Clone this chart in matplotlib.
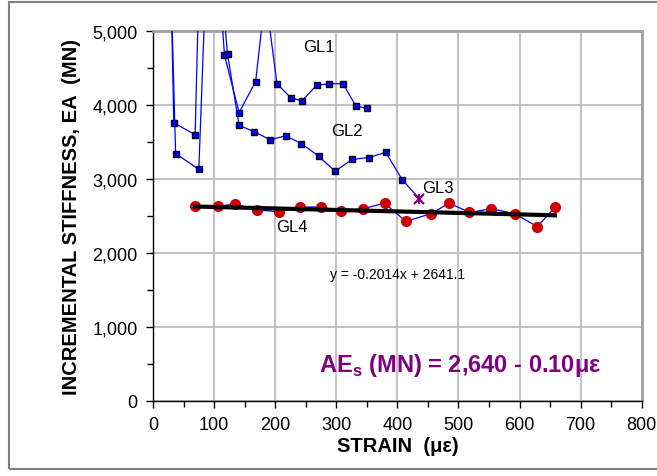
import matplotlib
matplotlib.use('Agg')
import matplotlib.pyplot as plt
from matplotlib.patches import Rectangle

plt.rcParams['font.family'] = ['Liberation Sans', 'DejaVu Sans']

# GL1 (squares)
gl1_x = [25, 34, 69, 84, 117, 141, 168, 184, 203, 226, 244, 268, 288, 311, 332, 350]
gl1_y = [7500, 3760, 3600, 8580, 4675, 3900, 4320, 5490, 4290, 4095, 4060, 4270, 4290, 4290, 3990, 3955]

# GL2 (squares), last segment runs to the GL3 point
gl2_x = [25, 37, 75, 94, 122, 141, 166, 192, 217, 243, 271, 298, 326, 353, 381, 408, 436]
gl2_y = [7000, 3345, 3130, 7345, 4690, 3725, 3640, 3530, 3585, 3480, 3310, 3105, 3265, 3290, 3360, 2990, 2733]

# GL3 single point
gl3_x = [436]
gl3_y = [2733]

# GL4 (circles)
gl4_x = [69, 107, 135, 170, 207, 241, 275, 308, 344, 379, 414, 455, 485, 518, 554, 592, 629, 658]
gl4_y = [2633, 2633, 2660, 2580, 2557, 2620, 2620, 2565, 2597, 2673, 2425, 2530, 2673, 2547, 2597, 2530, 2355, 2615]

# linear fit of GL4 shown on the chart
slope = -0.2014
intercept = 2641.1

fig = plt.figure(figsize=(6.57, 4.77), dpi=100)
ax = fig.add_axes([153/657, (477-401.5)/477, (641.7-153)/657, (401.5-32.3)/477])

blue = '#0000FF'
ax.plot(gl1_x, gl1_y, color=blue, lw=0.9, marker='s', ms=4.2,
        mfc=blue, mec='black', mew=1.0, zorder=3)
ax.plot(gl2_x[:-1], gl2_y[:-1], color=blue, lw=0.9, marker='s', ms=4.2,
        mfc=blue, mec='black', mew=1.0, zorder=3)
ax.plot(gl2_x[-2:], gl2_y[-2:], color=blue, lw=0.9, zorder=3)
ax.plot(gl3_x, gl3_y, ls='none', marker='x', ms=7, mew=1.6, color='#800080', zorder=4)
ax.plot(gl3_x, gl3_y, ls='none', marker='|', ms=7, mew=1.6, color='#800080', zorder=4)

ax.plot(gl4_x, gl4_y, color=blue, lw=0.9, marker='o', ms=7,
        mfc='#CC0000', mec='#CC0000', zorder=3)
fx = [min(gl4_x), max(gl4_x)]
fy = [slope * v + intercept for v in fx]
ax.plot(fx, fy, color='black', lw=3, zorder=5)

ax.set_xlim(0, 800)
ax.set_ylim(0, 5000)
ax.set_xticks(range(0, 801, 100))
ax.set_xticks(range(50, 801, 100), minor=True)
ax.set_yticks(range(0, 5001, 1000))
ax.set_yticks(range(500, 5001, 1000), minor=True)
ax.set_yticklabels(['0', '1,000', '2,000', '3,000', '4,000', '5,000'])
ax.tick_params(labelsize=13, direction='out', length=5, width=1, pad=6)
ax.tick_params(which='minor', direction='out', length=4, width=1)
ax.grid(True, which='major', color='#B8B8B8', lw=1.2)
ax.set_axisbelow(True)
for s in ['top', 'right']:
    ax.spines[s].set_color('#A0A0A0')
    ax.spines[s].set_linewidth(2)
for s in ['left', 'bottom']:
    ax.spines[s].set_color('black')
    ax.spines[s].set_linewidth(1)

ax.set_xlabel('STRAIN  (\u03bc\u03b5)', fontsize=14.5, fontweight='bold', labelpad=2)
ax.set_ylabel('INCREMENTAL STIFFNESS, EA  (MN)', fontsize=14.5, fontweight='bold', labelpad=8)

ax.text(272, 4790, 'GL1', fontsize=12, ha='center', va='center')
ax.text(317, 3650, 'GL2', fontsize=12, ha='center', va='center')
ax.text(467, 2880, 'GL3', fontsize=12, ha='center', va='center')
ax.text(227, 2350, 'GL4', fontsize=12, ha='center', va='center')
ax.text(400, 1710, 'y = -0.2014x + 2641.1', fontsize=10, ha='center', va='center')
ax.text(503, 490, 'AE$_\\mathregular{s}$ (MN) = 2,640 - 0.10\u03bc\u03b5',
        fontsize=17, fontweight='bold', color='#800080', ha='center', va='center')

fig.patches.append(Rectangle((9/657, (477-470)/477), 1.2, (470-3.3)/477,
                             transform=fig.transFigure, fill=False,
                             edgecolor='#808080', lw=1.5))

fig.savefig('out.png', dpi=100)
